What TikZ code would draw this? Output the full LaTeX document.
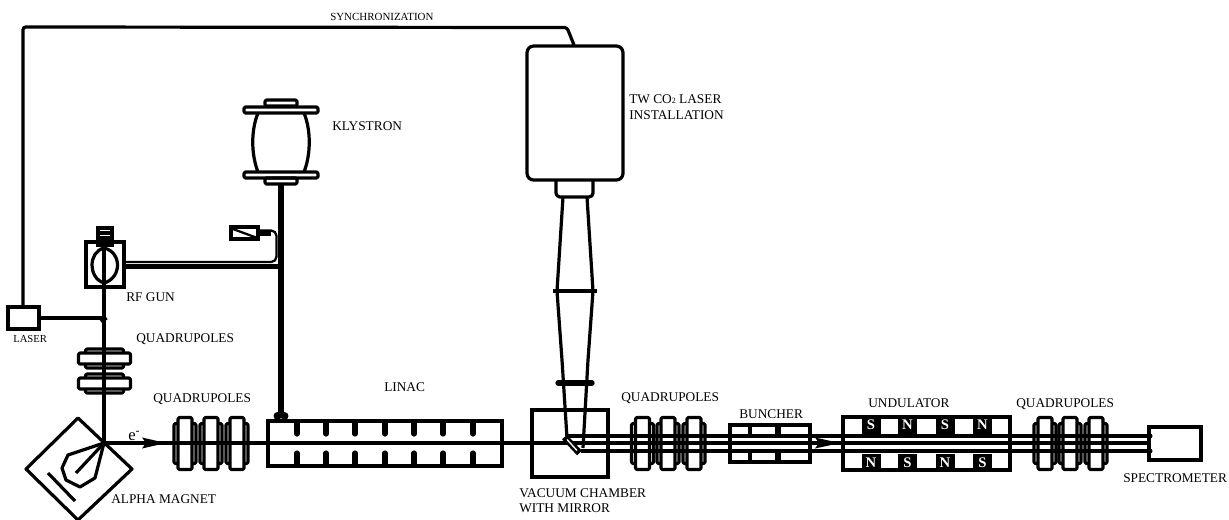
\documentclass[tikz,border=0pt]{standalone}
\usepackage{fontspec}
\setmainfont{Liberation Serif}
\usetikzlibrary{arrows.meta}
\def\px{0.75pt}
\tikzset{
  wall/.style={line width=2.4pt, line join=round},
  thinwall/.style={line width=2.3pt, line join=round},
  beam/.style={line width=2.4pt},
  apparatus/.style={draw, line width=2.4pt, inner sep=0pt, outer sep=0pt},
  lab/.style={anchor=base west, inner sep=0pt, font=\fontsize{10pt}{11pt}\selectfont},
  smalllab/.style={anchor=base west, inner sep=0pt, font=\fontsize{8pt}{10pt}\selectfont},
  pole/.style={fill=black, text=white, inner sep=0pt, minimum width=19*\px, minimum height=17*\px,
    font=\bfseries\fontsize{11pt}{11pt}\selectfont},
  quadh/.pic={
    \draw[thinwall, rounded corners=1pt, fill=white] (-11,-20) rectangle (11,20);
    \draw[thinwall, rounded corners=1pt, fill=white] (-7,-26) rectangle (7,26);
  },
  quadv/.pic={
    \draw[thinwall, rounded corners=1pt, fill=white] (-19,-9.5) rectangle (19,9.5);
    \draw[thinwall, rounded corners=1pt, fill=white] (-26,-5.5) rectangle (26,5.5);
  },
}
\begin{document}
\begin{tikzpicture}[x=0.75pt, y=-0.75pt]
  \useasboundingbox (0,0) rectangle (1229,519);
  % boxes
  \node[apparatus, minimum width=31*\px, minimum height=22*\px] (laser) at (23.5,318) {};
  \node[apparatus, minimum width=38*\px, minimum height=45*\px] (gun) at (105,264.5) {};
  \node[apparatus, rounded corners=5pt, minimum width=96*\px, minimum height=134*\px] (co2) at (575,113) {};
  \node[apparatus, minimum width=234*\px, minimum height=45*\px] (linac) at (385,443.5) {};
  \node[apparatus, minimum width=76*\px, minimum height=67*\px] (chamber) at (570,443.5) {};
  \node[apparatus, minimum width=80*\px, minimum height=37*\px] (buncher) at (770,443.5) {};
  \node[apparatus, minimum width=167*\px, minimum height=53*\px] (undulator) at (926.5,443.5) {};
  \node[apparatus, minimum width=52*\px, minimum height=33*\px] (spectrometer) at (1175,443.5) {};
  \node[apparatus, minimum width=27*\px, minimum height=12*\px] (atten) at (244.5,233) {};

  % quadrupoles
  \pic at (104.5,358.5) {quadv};
  \pic at (104.5,383.5) {quadv};
  \foreach \x in {185,211,237,642.5,668,694,1045,1070,1096} {
    \pic at (\x,443.5) {quadh};
  }

  % named points of the beams
  \coordinate (corner) at (23,27);
  \coordinate (sync) at (574,45);
  \coordinate (bend) at (104,443);
  \coordinate (tee) at (104,318);
  \coordinate (feed) at (281,416);

  % synchronization line
  \draw[wall, rounded corners=2pt] (laser.north -| corner) -- (corner) -- (567,27.5) -- (sync);
  \draw[beam] (laser.east) -- (tee);
  % electron beam
  \draw[beam] (gun.north -| bend) -- (bend) -- (spectrometer.west |- bend);
  \fill (142,437.5) -- (166,443) -- (142,448.5) -- (146,443) -- cycle;
  \fill (815,437.5) -- (840,443) -- (815,448.5) -- (819,443) -- cycle;
  \draw[line width=4.2pt] (100.5,321) -- (106,317);
  % co2 beam after the mirror
  \draw[beam] (567,436) -- (spectrometer.west |- 0,436);
  \draw[beam] (581,451) -- (spectrometer.west |- 0,451);
  \fill (1150,436) circle (2.5);
  \fill (1150,451) circle (2.5);

  % klystron
  \draw[thinwall, rounded corners=1pt] (265,100) rectangle (297,106);
  \draw[thinwall, rounded corners=1pt] (244,107) rectangle (318,113);
  \draw[thinwall, rounded corners=1pt] (244,172) rectangle (318,178);
  \draw[thinwall, rounded corners=1pt] (265,178) rectangle (297,184);
  \draw[wall] (258,113) .. controls (251,130) and (251,154) .. (258,172);
  \draw[wall] (304,113) .. controls (311,130) and (311,154) .. (304,172);
  % waveguide
  \draw[line width=5pt] (281,185) -- (feed);
  \draw[line width=4.4pt] (atten.east) -- (271,233);
  \draw[line width=1.7pt, rounded corners=4pt] (258,230.5) -- (276.5,230.5) -- (276.5,262) -- (gun.east |- 0,262);
  \draw[line width=3.8pt] (gun.east |- 0,266.5) -- (281,266.5);
  \draw[line width=1.7pt] (233,229) -- (256,237.5);
  \fill (277.5,416) circle (4);
  \fill (284.5,416) circle (4);

  % rf gun
  \draw[line width=2.3pt] (98,228) rectangle (112,245);
  \draw[line width=2.3pt] (97,233) -- (113,233);
  \draw[line width=2.3pt] (97,238) -- (113,238);
  \draw[line width=2.4pt] (104,248) .. controls (88,252) and (88,278) .. (104,283);
  \draw[line width=2.4pt] (104,248) .. controls (122,252) and (122,278) .. (104,283);

  % linac irises
  \foreach \x in {297,326,355,385,414,443,473} {
    \draw[line width=3.9pt, line cap=round] (\x,423) -- (\x,434);
    \draw[line width=3.9pt, line cap=round] (\x,453) -- (\x,464);
  }

  % alpha magnet
  \draw[wall] (78,418) -- (132,469) -- (78,520) -- (26,469) -- cycle;
  \draw[wall] (bend) -- (68,455) -- (62,468) -- (66,480) -- (80,487) -- (95,478) -- cycle;
  \draw[wall] (bend) -- (76,473);
  \draw[wall] (48,473) -- (75,501);

  % buncher
  \draw[line width=2.3pt] (750,425) -- (750,436);
  \draw[line width=2.3pt] (750,451) -- (750,462);
  \draw[line width=4.2pt] (778,425) -- (778,436);
  \draw[line width=4.2pt] (778,451) -- (778,462);

  % undulator
  \foreach \x/\a/\b [count=\i] in {871/S/N, 907.5/N/S, 945/S/N, 982.5/N/S} {
    \node[pole] (top\i) at (\x,425) {\a};
    \node[pole] (bot\i) at (\x,462.5) {\b};
  }

  % co2 laser optics
  \draw[wall, rounded corners=3pt] (556,180) -- (556,197) -- (593,197) -- (593,180);
  \draw[wall] (563,197) -- (557,291) -- (562,360) -- (567,438);
  \draw[wall] (587,197) -- (593,291) -- (588,360) -- (583,448);
  \draw[line width=2.3pt] (553,291) -- (597,291);
  \draw[line width=4pt, line cap=round] (558,383) -- (592,383);
  \draw[line width=5pt] (564.5,437) -- (579.5,453);
  \draw[line width=1pt, white] (567,439.5) -- (577,450.5);

  % labels
  \node[smalllab, font=\fontsize{8.2pt}{10pt}\selectfont] (synclab) at (330,20) {SYNCHRONIZATION};
  \node[lab] (klylab) at (332,130) {KLYSTRON};
  \node[lab] (twlab) at (629,103) {TW CO{\fontsize{6pt}{6pt}\selectfont 2} LASER};
  \node[lab] (instlab) at (629,119) {INSTALLATION};
  \node[lab] (gunlab) at (126,301) {RF GUN};
  \node[smalllab] (laserlab) at (13,342.5) {LASER};
  \node[lab] (quadlaba) at (136,342) {QUADRUPOLES};
  \node[lab] (quadlabb) at (153,402) {QUADRUPOLES};
  \node[lab] (alphalab) at (111,503) {ALPHA MAGNET};
  \node[lab, font=\fontsize{12.5pt}{13pt}\selectfont] (elab) at (128,440) {e\textsuperscript{-}};
  \node[lab] (linaclab) at (384,391) {LINAC};
  \node[lab] (vaclab) at (519,497) {VACUUM CHAMBER};
  \node[lab] (withlab) at (519,512) {WITH MIRROR};
  \node[lab] (quadlabc) at (621,401) {QUADRUPOLES};
  \node[lab] (bunchlab) at (739,418) {BUNCHER};
  \node[lab] (undlab) at (868,407) {UNDULATOR};
  \node[lab] (quadlabd) at (1016,407) {QUADRUPOLES};
  \node[lab] (speclab) at (1123,482) {SPECTROMETER};
\end{tikzpicture}
\end{document}
